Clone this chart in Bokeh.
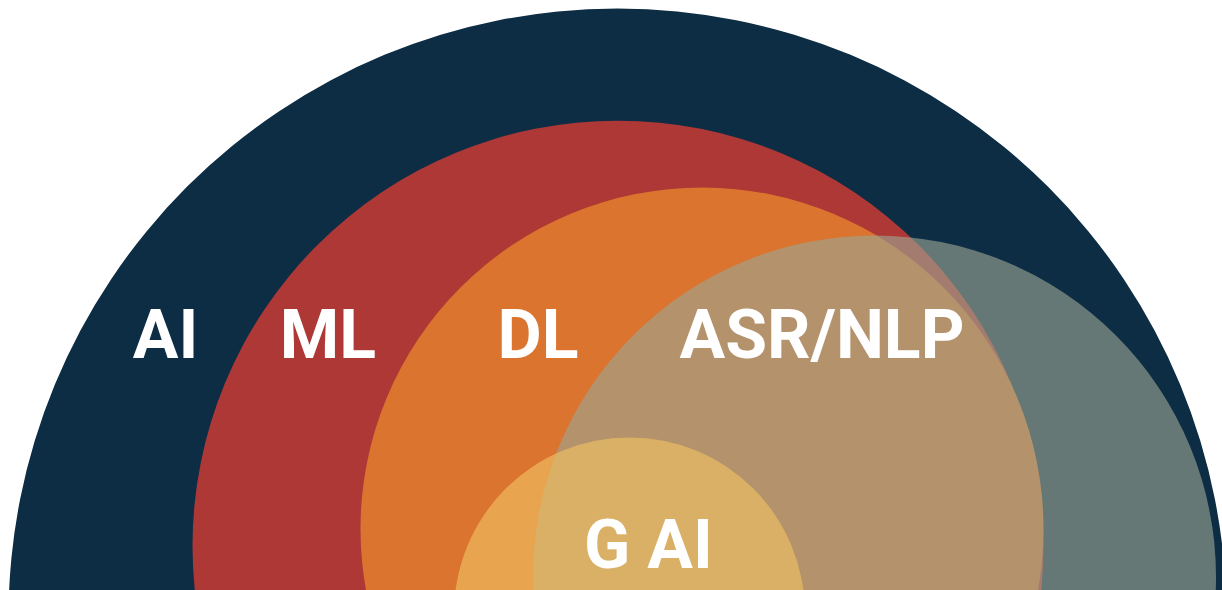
from bokeh.plotting import figure
from bokeh.models import Range1d
from bokeh.core.properties import value
from bokeh.embed import file_html
from bokeh.resources import INLINE

# Nested fields of AI (diagram coordinates, y grows downward)
labels = ["AI", "ML", "DL", "ASR/NLP", "G AI"]
center_x = [617, 617.5, 701.5, 874, 629]
center_y = [617, 545.5, 528.5, 576.5, 612.4]
radius = [609, 425.5, 341.5, 341.5, 175.4]
fill_colors = ["#0D2D45", "#AE3836", "#DB742E", "#9DA693", "#F0C163"]
fill_alphas = [1.0, 1.0, 1.0, 0.62, 0.62]

label_x = [165, 327.5, 537.5, 821.5, 648]
label_y = [334, 334, 334, 334, 544]

W, H = 1222, 590
p = figure(width=W, height=H, output_backend="svg", toolbar_location=None,
           x_range=Range1d(0, W), y_range=Range1d(H, 0),
           min_border=0, tools="")
p.axis.visible = False
p.grid.visible = False
p.outline_line_color = None
p.background_fill_color = "white"
p.border_fill_color = "white"

for i in range(len(labels)):
    p.circle(x=[center_x[i]], y=[center_y[i]], radius=radius[i],
             fill_color=fill_colors[i], fill_alpha=fill_alphas[i],
             line_color=None)

p.text(x=label_x, y=label_y, text=labels, text_align="center",
       text_baseline="alphabetic", text_color="white",
       text_font=value("Roboto"), text_font_style="bold",
       text_font_size="68px")

open("out.html", "w").write(file_html(p, INLINE))
